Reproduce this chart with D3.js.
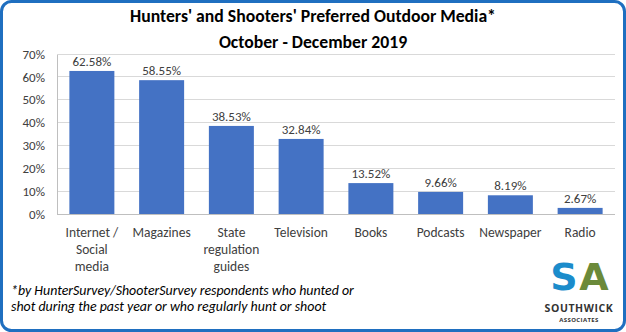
<!DOCTYPE html>
<html><head><meta charset="utf-8">
<script src="https://cdn.jsdelivr.net/npm/d3@7"></script>
<style>body{margin:0;background:#fff}svg{display:block}</style>
</head><body>
<script>
const categories = [["Internet /","Social","media"],["Magazines"],["State","regulation","guides"],["Television"],["Books"],["Podcasts"],["Newspaper"],["Radio"]];
const values = [62.58, 58.55, 38.53, 32.84, 13.52, 9.66, 8.19, 2.67];
const yTicks = [0,10,20,30,40,50,60,70];
const titleLines = ["Hunters' and Shooters' Preferred Outdoor Media*","October - December 2019"];
const footLines = ["*by HunterSurvey/ShooterSurvey respondents who hunted or","shot during the past year or who regularly hunt or shoot"];

const W=626,H=332;
const svg=d3.select("body").append("svg").attr("width",W).attr("height",H);
const font="Calibri, Carlito, 'Open Sans', 'Liberation Sans', sans-serif";
svg.append("rect").attr("x",1.5).attr("y",1.5).attr("width",W-3).attr("height",H-3).attr("rx",10)
  .attr("fill","#fff").attr("stroke","#1f6fc0").attr("stroke-width",3);

svg.selectAll("text.title").data(titleLines).join("text")
  .attr("x",313).attr("y",(d,i)=>22+i*26).attr("text-anchor","middle")
  .attr("font-family",font).attr("font-weight","bold").attr("font-size",17.7).attr("fill","#000").text(d=>d);

const x=d3.scaleBand().domain(d3.range(categories.length)).range([57,615]).paddingInner(0.355).paddingOuter(0.1775);
const y=d3.scaleLinear().domain([0,70]).range([214,54]);

const g=svg.append("g");
g.selectAll("line.grid").data(yTicks.slice(1)).join("line")
  .attr("x1",57).attr("x2",615).attr("y1",d=>y(d)).attr("y2",d=>y(d))
  .attr("stroke","#d9d9d9").attr("stroke-width",1).attr("shape-rendering","crispEdges");

const ya=svg.append("g").attr("transform","translate(57,0)")
  .call(d3.axisLeft(y).tickValues(yTicks).tickFormat(d=>d+"%").tickSize(0).tickPadding(12));
ya.select(".domain").attr("stroke","#bfbfbf").attr("shape-rendering","crispEdges");
ya.selectAll("text").attr("font-family",font).attr("font-size",13).attr("fill","#404040");

svg.append("line").attr("x1",57).attr("x2",615).attr("y1",y(0)).attr("y2",y(0))
  .attr("stroke","#bfbfbf").attr("shape-rendering","crispEdges");

svg.selectAll("rect.bar").data(values).join("rect")
  .attr("x",(d,i)=>x(i)).attr("width",x.bandwidth())
  .attr("y",d=>y(d)).attr("height",d=>y(0)-y(d)).attr("fill","#4472c4");

svg.selectAll("text.val").data(values).join("text")
  .attr("x",(d,i)=>x(i)+x.bandwidth()/2).attr("y",d=>y(d)-5).attr("text-anchor","middle")
  .attr("font-family",font).attr("font-size",13).attr("fill","#404040").text(d=>d.toFixed(2)+"%");

const cl=svg.selectAll("text.cat").data(categories).join("text")
  .attr("text-anchor","middle").attr("font-family",font).attr("font-size",13.5).attr("fill","#404040");
cl.each(function(d,i){
  d3.select(this).selectAll("tspan").data(d).join("tspan")
    .attr("x",x(i)+x.bandwidth()/2).attr("y",(t,j)=>237+j*17).text(t=>t);
});

svg.selectAll("text.foot").data(footLines).join("text")
  .attr("x",11).attr("y",(d,i)=>295+i*16).attr("font-family",font).attr("font-style","italic")
  .attr("font-size",13.9).attr("fill","#000").text(d=>d);

// logo
const lg=svg.append("g");
lg.append("text").attr("x",564).attr("y",290).attr("text-anchor","middle").attr("font-family","'DejaVu Sans', sans-serif")
  .attr("font-weight","bold").attr("font-size",38).attr("fill","#1b8ccb").text("S");
lg.append("text").attr("x",594).attr("y",290).attr("text-anchor","middle").attr("font-family","'DejaVu Sans', sans-serif")
  .attr("font-weight","bold").attr("font-size",38).attr("fill","#6b8a3a").text("A");
lg.append("text").attr("x",579).attr("y",312).attr("text-anchor","middle").attr("font-family","'Open Sans', sans-serif")
  .attr("font-weight","bold").attr("font-size",10.5).attr("fill","#333").attr("letter-spacing",0.6).text("SOUTHWICK");
lg.append("text").attr("x",579).attr("y",322).attr("text-anchor","middle").attr("font-family","'Open Sans', sans-serif")
  .attr("font-weight","bold").attr("font-size",6).attr("fill","#333").attr("letter-spacing",0.4).text("ASSOCIATES");
</script>
</body></html>
